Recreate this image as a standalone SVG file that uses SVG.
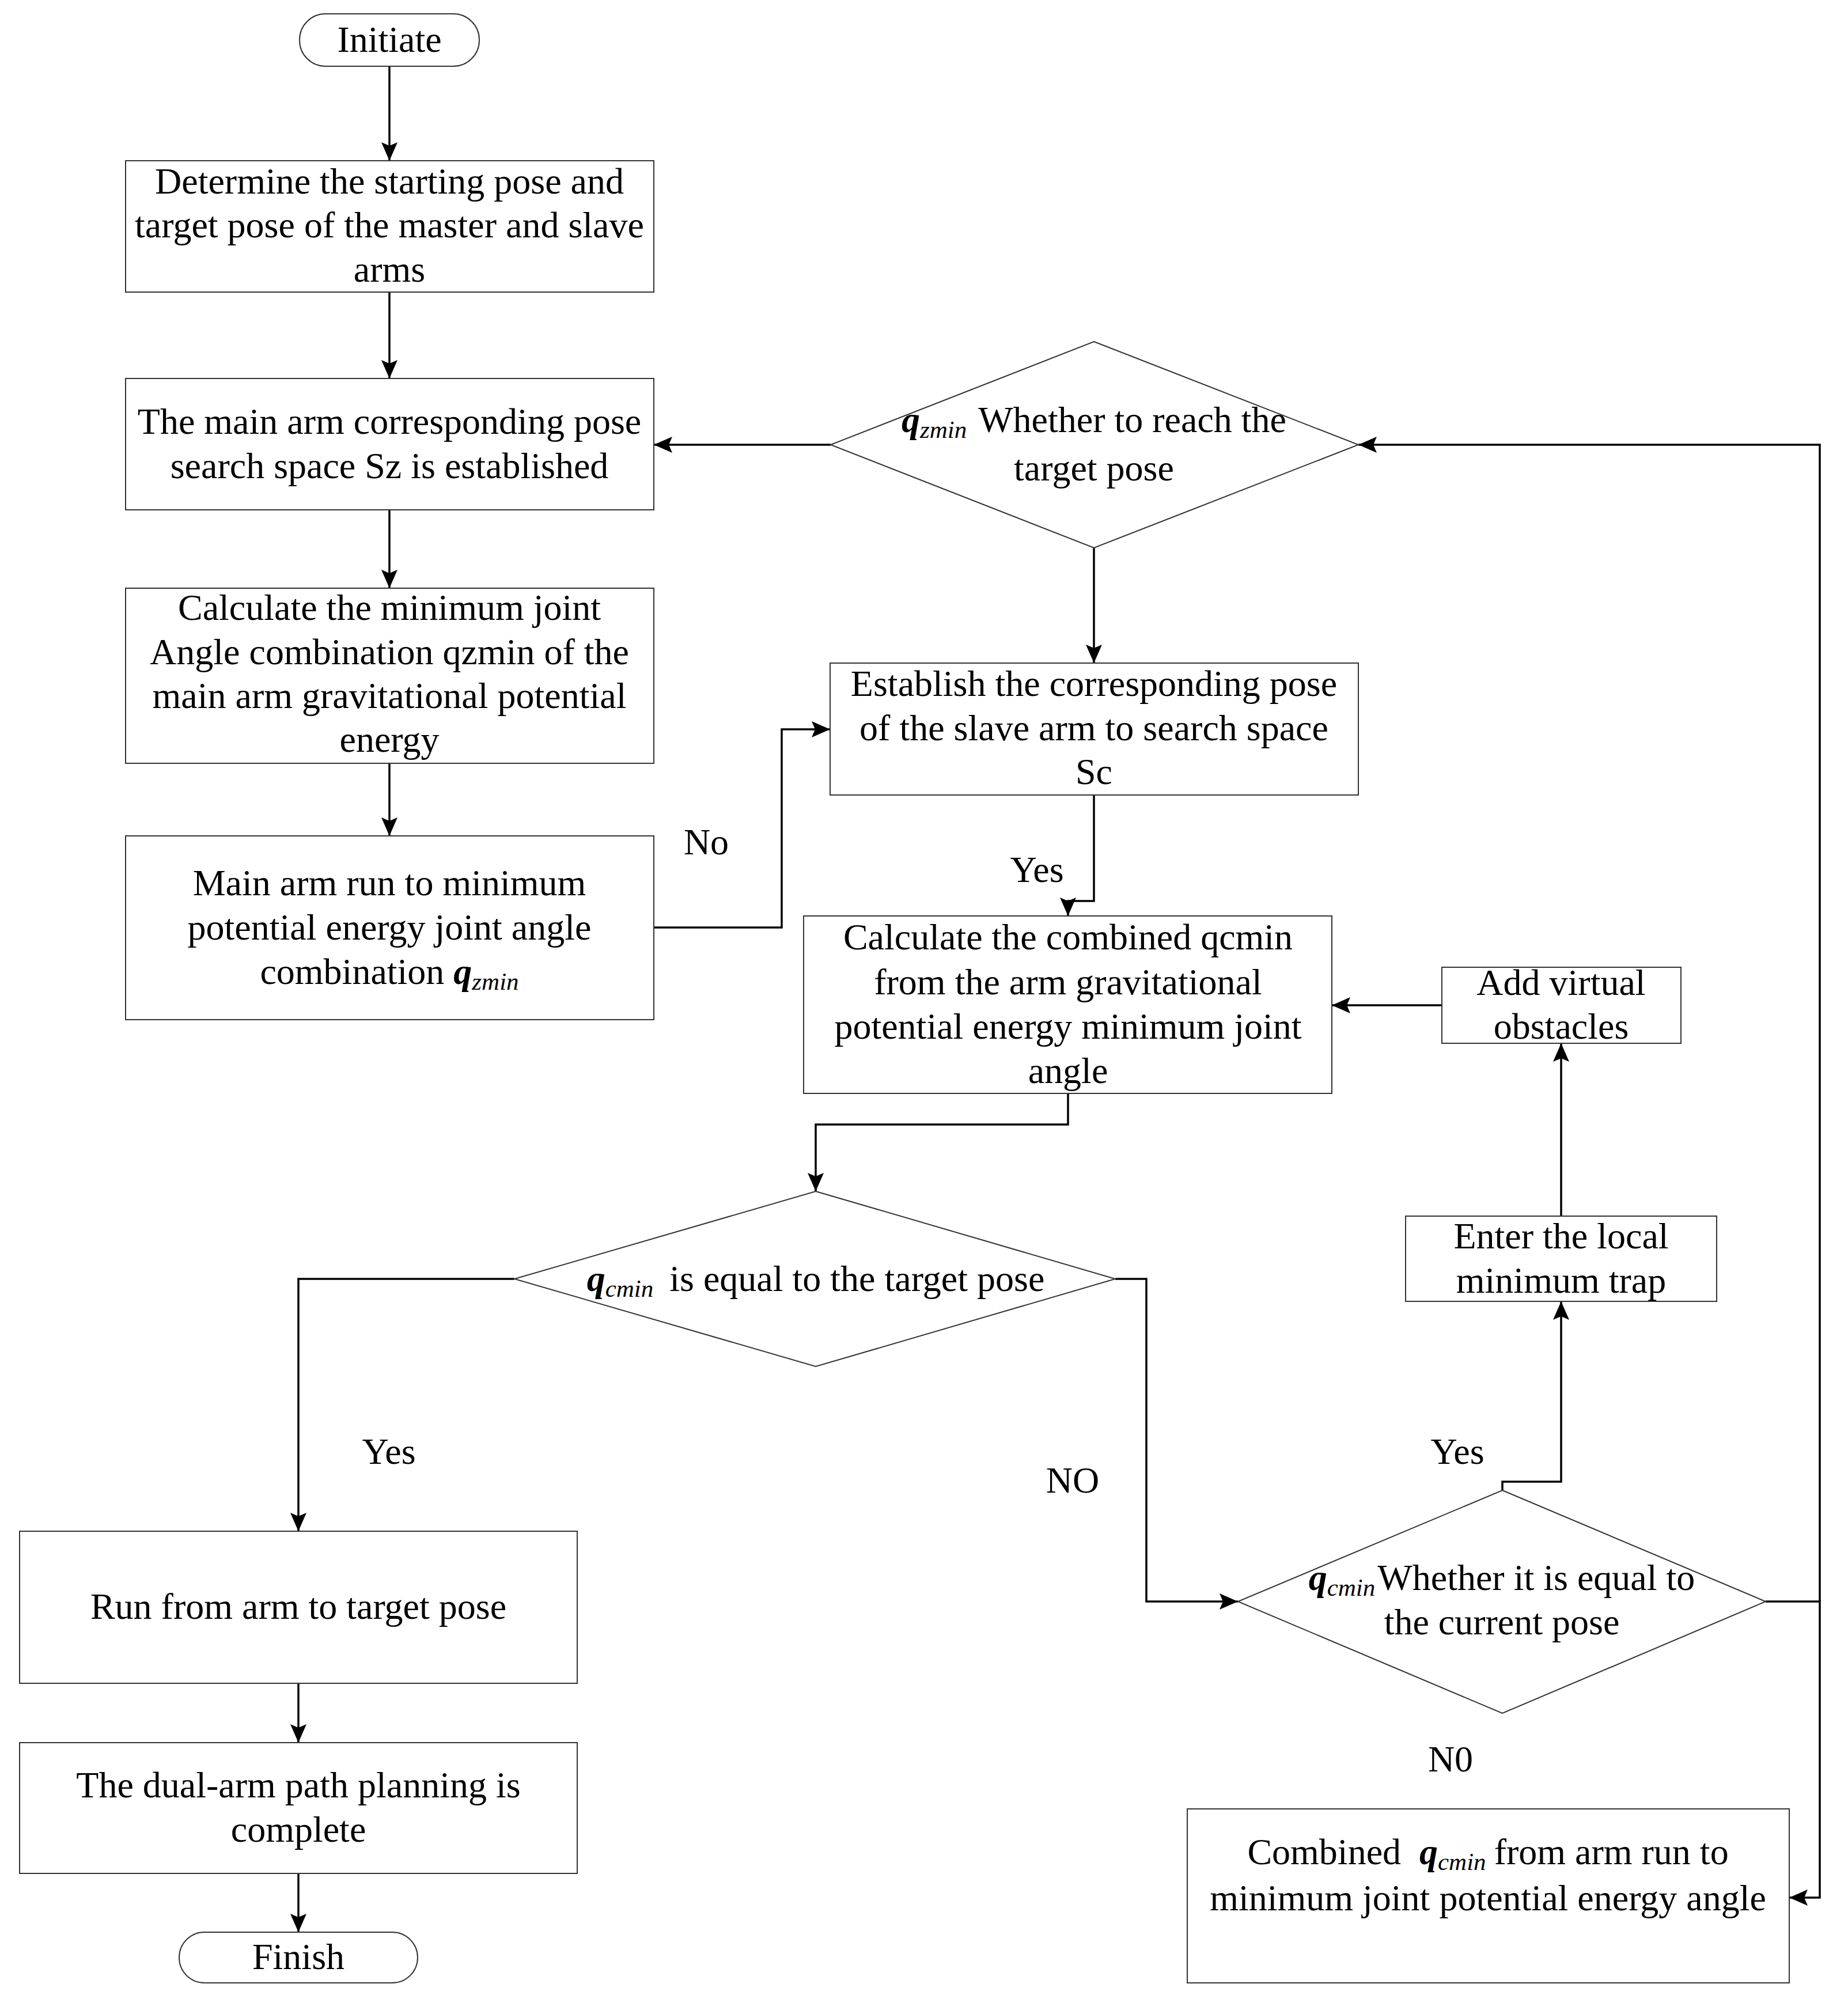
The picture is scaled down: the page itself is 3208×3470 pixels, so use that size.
<svg xmlns="http://www.w3.org/2000/svg" width="3208" height="3470" viewBox="0 0 3208 3470">
<style>
.bx{fill:#fff;stroke:#333;stroke-width:2}
.cn{fill:none;stroke:#000;stroke-width:3.5}
.t{font-family:"Liberation Serif","Times New Roman",serif;font-size:64px;fill:#000;text-anchor:middle}
.q{font-weight:bold;font-style:italic}
.s{font-style:italic;font-size:43px}
</style>
<defs>
<marker id="ar" markerUnits="userSpaceOnUse" markerWidth="34" markerHeight="30" refX="32" refY="14" orient="auto">
<path d="M0,0 L32,14 L0,28 L6,14 Z" fill="#000"/>
</marker>
</defs>
<rect width="3208" height="3470" fill="#fff"/>
<g id="connectors">
<path class="cn" d="M676,115 V279" marker-end="url(#ar)"/>
<path class="cn" d="M676,507 V657" marker-end="url(#ar)"/>
<path class="cn" d="M676,885 V1021" marker-end="url(#ar)"/>
<path class="cn" d="M676,1325 V1451" marker-end="url(#ar)"/>
<path class="cn" d="M1135,1610 H1357 V1266 H1441" marker-end="url(#ar)"/>
<path class="cn" d="M1442,772 H1135" marker-end="url(#ar)"/>
<path class="cn" d="M1899,951 V1151" marker-end="url(#ar)"/>
<path class="cn" d="M1899,1380 V1564 H1854 V1590" marker-end="url(#ar)"/>
<path class="cn" d="M2503,1745 H2312" marker-end="url(#ar)"/>
<path class="cn" d="M2710,2111 V1811" marker-end="url(#ar)"/>
<path class="cn" d="M1854,1898 V1952 H1416 V2068" marker-end="url(#ar)"/>
<path class="cn" d="M893,2220 H518 V2658" marker-end="url(#ar)"/>
<path class="cn" d="M1936,2220 H1990 V2780 H2149" marker-end="url(#ar)"/>
<path class="cn" d="M2608,2587 V2572 H2710 V2259" marker-end="url(#ar)"/>
<path class="cn" d="M3159,2780 V772 H2358" marker-end="url(#ar)"/>
<path class="cn" d="M3065,2780 H3159 V3294 H3106" marker-end="url(#ar)"/>
<path class="cn" d="M518,2922 V3025" marker-end="url(#ar)"/>
<path class="cn" d="M518,3252 V3354" marker-end="url(#ar)"/>
</g>
<g id="initiate">
<rect class="bx" x="520" y="24" width="312" height="91" rx="45"/>
<text class="t" x="676" y="90">Initiate</text>
</g>
<g id="box1">
<rect class="bx" x="218" y="279" width="917" height="228"/>
<text class="t" x="676" y="336">Determine the starting pose and</text>
<text class="t" x="676" y="412">target pose of the master and slave</text>
<text class="t" x="676" y="489">arms</text>
</g>
<g id="box2">
<rect class="bx" x="218" y="657" width="917" height="228"/>
<text class="t" x="676" y="753">The main arm corresponding pose</text>
<text class="t" x="676" y="830">search space Sz is established</text>
</g>
<g id="box3">
<rect class="bx" x="218" y="1021" width="917" height="304"/>
<text class="t" x="676" y="1076">Calculate the minimum joint</text>
<text class="t" x="676" y="1153">Angle combination qzmin of the</text>
<text class="t" x="676" y="1229">main arm gravitational potential</text>
<text class="t" x="676" y="1305">energy</text>
</g>
<g id="box4">
<rect class="bx" x="218" y="1451" width="917" height="319"/>
<text class="t" x="676" y="1554">Main arm run to minimum</text>
<text class="t" x="676" y="1631">potential energy joint angle</text>
<text class="t" x="676" y="1708">combination <tspan class="q">q</tspan><tspan class="s" dy="10">zmin</tspan></text>
</g>
<g id="decision1">
<polygon class="bx" points="1899,593 2358,772 1899,951 1442,772"/>
<text class="t" x="1899" y="750"><tspan class="q">q</tspan><tspan class="s" dy="10">zmin</tspan><tspan dy="-10" dx="20">Whether to reach the</tspan></text>
<text class="t" x="1899" y="834">target pose</text>
</g>
<g id="box5">
<rect class="bx" x="1441" y="1151" width="917" height="229"/>
<text class="t" x="1899" y="1208">Establish the corresponding pose</text>
<text class="t" x="1899" y="1285">of the slave arm to search space</text>
<text class="t" x="1899" y="1361">Sc</text>
</g>
<g id="box6">
<rect class="bx" x="1395" y="1590" width="917" height="308"/>
<text class="t" x="1854" y="1648">Calculate the combined qcmin</text>
<text class="t" x="1854" y="1726">from the arm gravitational</text>
<text class="t" x="1854" y="1803">potential energy minimum joint</text>
<text class="t" x="1854" y="1880">angle</text>
</g>
<g id="box7">
<rect class="bx" x="2503" y="1679" width="415" height="132"/>
<text class="t" x="2710" y="1727">Add virtual</text>
<text class="t" x="2710" y="1803">obstacles</text>
</g>
<g id="box8">
<rect class="bx" x="2440" y="2111" width="540" height="148"/>
<text class="t" x="2710" y="2167">Enter the local</text>
<text class="t" x="2710" y="2244">minimum trap</text>
</g>
<g id="decision2">
<polygon class="bx" points="1416,2068 1936,2220 1416,2372 893,2220"/>
<text class="t" x="1416" y="2241"><tspan class="q">q</tspan><tspan class="s" dy="10">cmin</tspan><tspan dy="-10" dx="28">is equal to the target pose</tspan></text>
</g>
<g id="decision3">
<polygon class="bx" points="2608,2587 3065,2780 2608,2974 2149,2780"/>
<text class="t" x="2607" y="2760"><tspan class="q">q</tspan><tspan class="s" dy="10">cmin</tspan><tspan dy="-10" dx="4">Whether it is equal to</tspan></text>
<text class="t" x="2607" y="2837">the current pose</text>
</g>
<g id="box9">
<rect class="bx" x="2061" y="3140" width="1045" height="302"/>
<text class="t" x="2583" y="3236">Combined <tspan class="q" dx="16">q</tspan><tspan class="s" dy="10">cmin</tspan><tspan dy="-10" dx="14">from arm run to</tspan></text>
<text class="t" x="2583" y="3316">minimum joint potential energy angle</text>
</g>
<g id="box10">
<rect class="bx" x="34" y="2658" width="968" height="264"/>
<text class="t" x="518" y="2810">Run from arm to target pose</text>
</g>
<g id="box11">
<rect class="bx" x="34" y="3025" width="968" height="227"/>
<text class="t" x="518" y="3120">The dual-arm path planning is</text>
<text class="t" x="518" y="3197">complete</text>
</g>
<g id="finish">
<rect class="bx" x="311" y="3354" width="414" height="88" rx="44"/>
<text class="t" x="518" y="3418">Finish</text>
</g>
<g id="labels">
<text class="t" x="1226" y="1483">No</text>
<text class="t" x="1800" y="1531">Yes</text>
<text class="t" x="675" y="2541">Yes</text>
<text class="t" x="1862" y="2591">NO</text>
<text class="t" x="2530" y="2541">Yes</text>
<text class="t" x="2518" y="3075">N0</text>
</g>
</svg>
